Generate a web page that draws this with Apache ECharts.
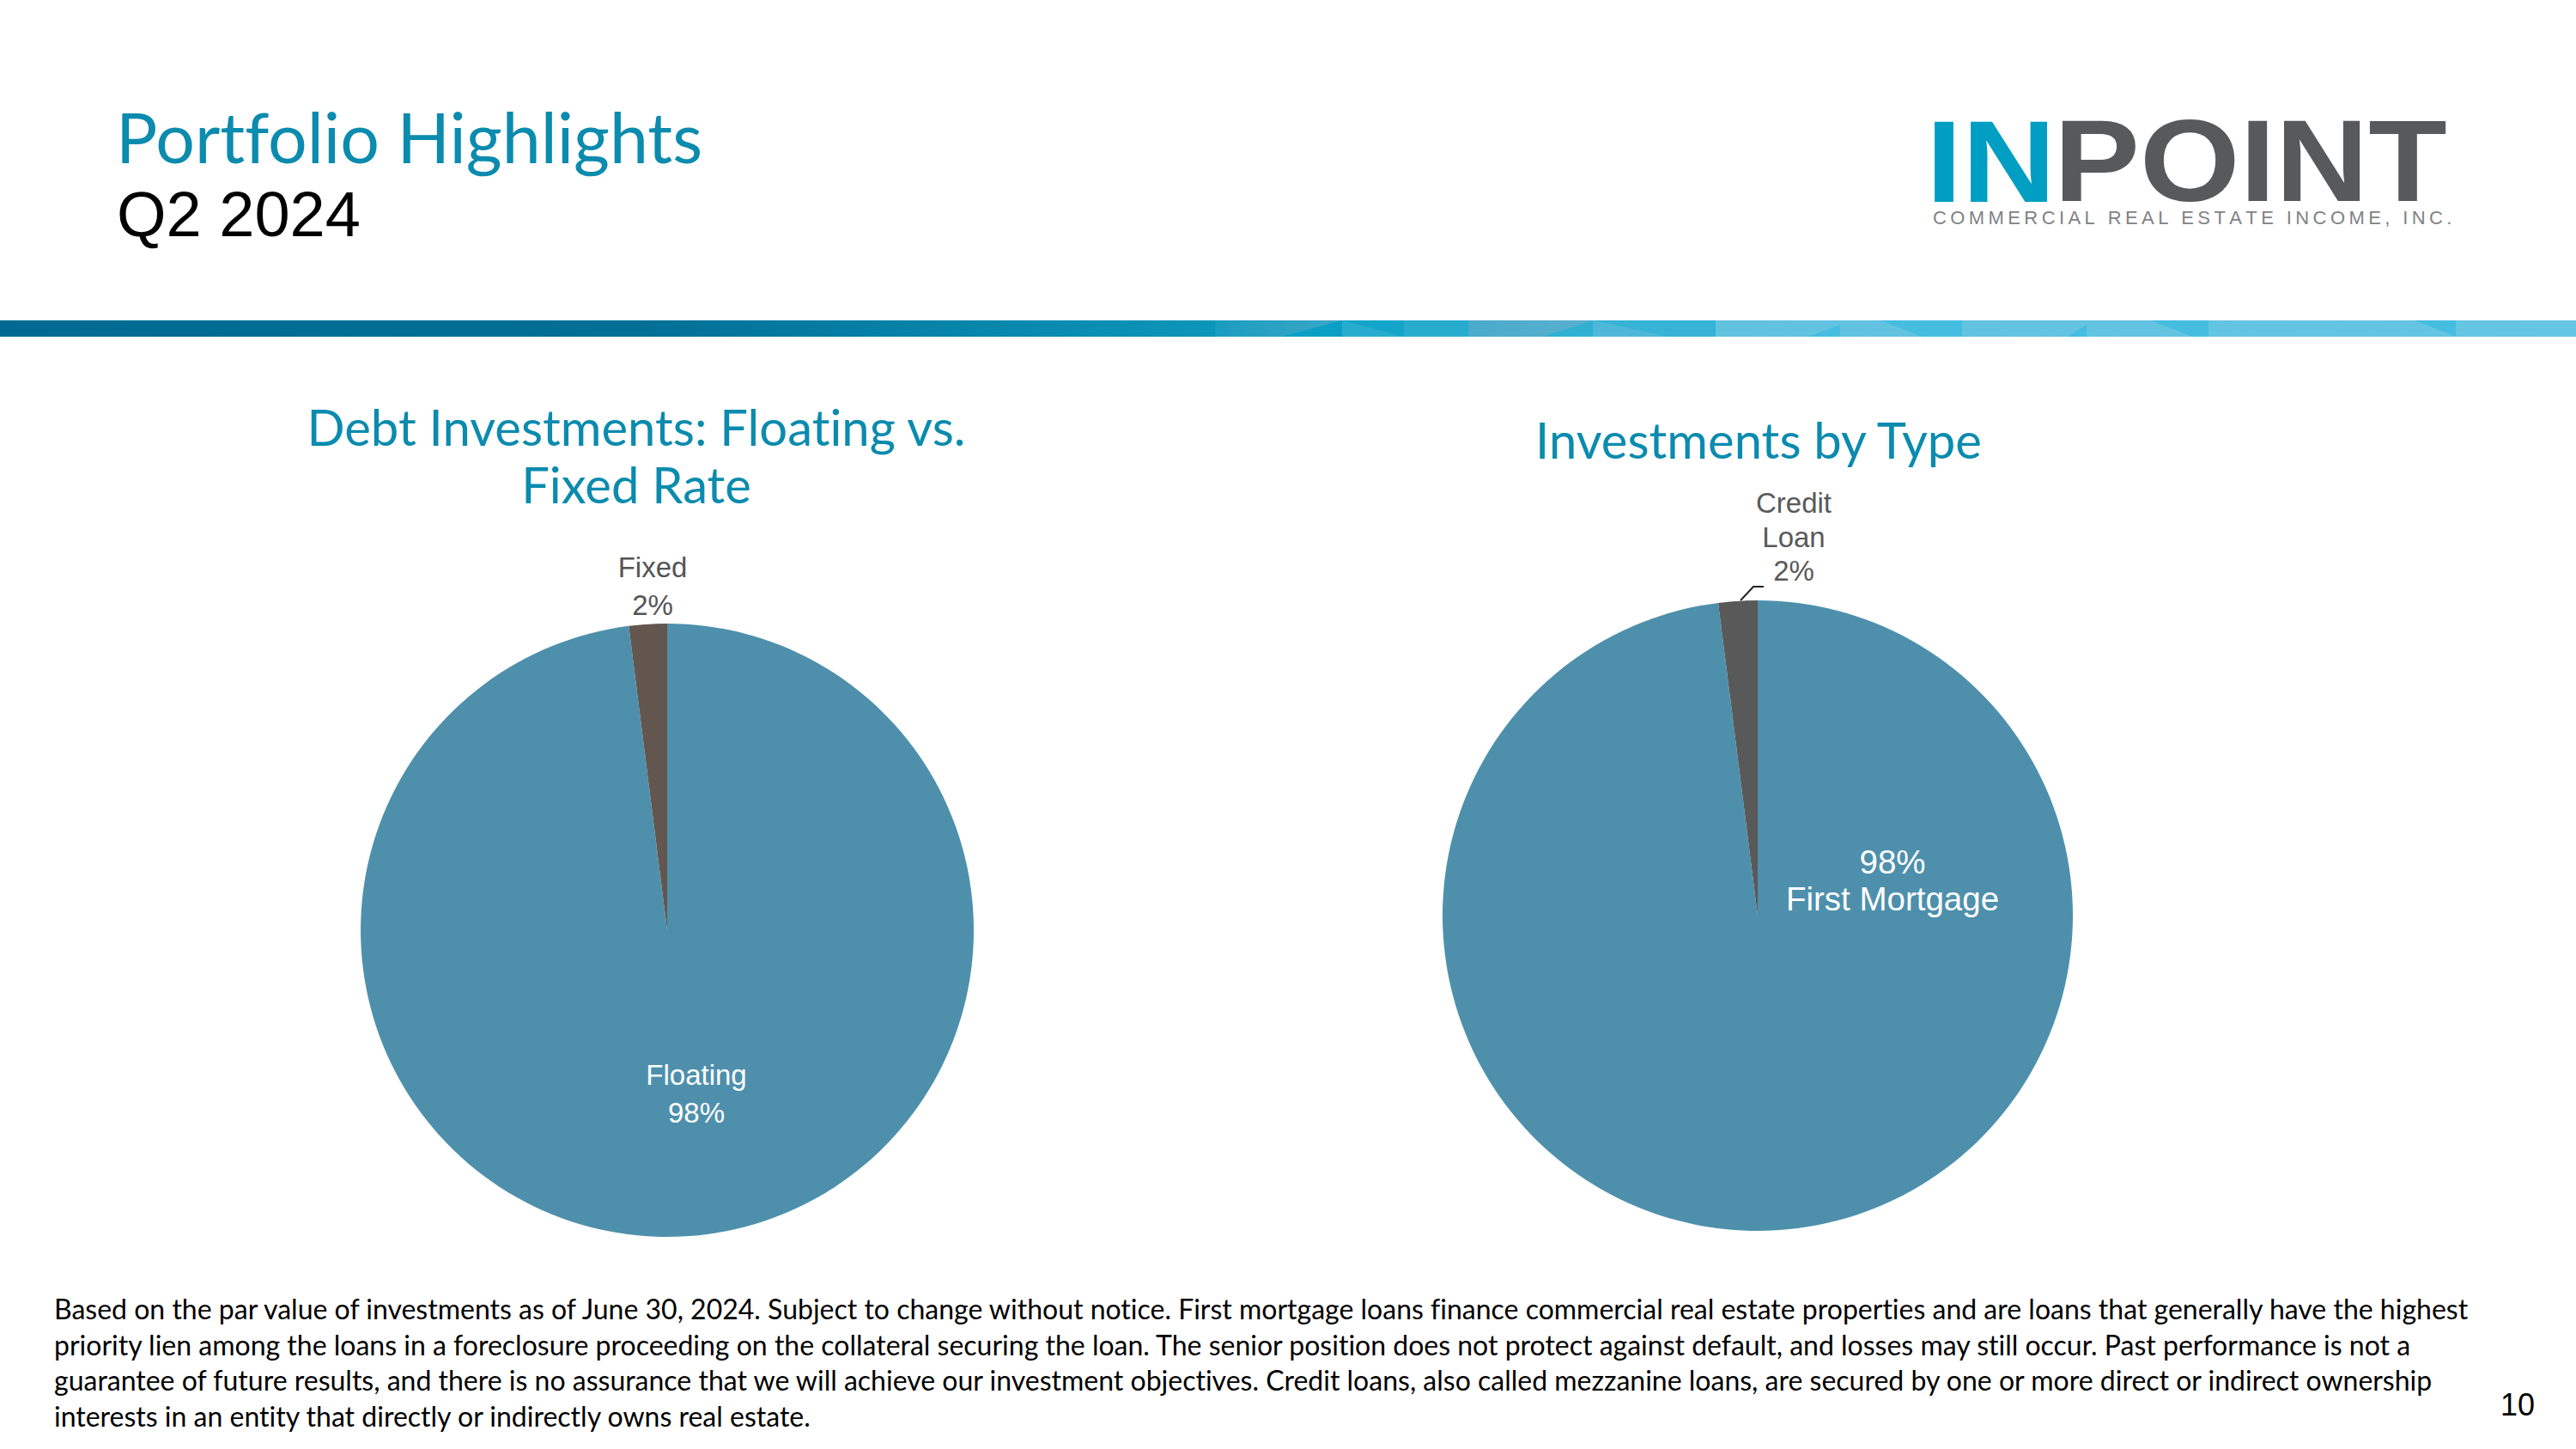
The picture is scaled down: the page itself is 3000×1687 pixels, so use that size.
<!DOCTYPE html>
<html>
<head>
<meta charset="utf-8">
<title>Portfolio Highlights</title>
<style>
  html, body { margin: 0; padding: 0; background: #fff; }
  #main { width: 3000px; height: 1687px; }
  /* reference has no ti / tf ligatures */
  #main text { font-variant-ligatures: none; }
</style>
<script src="https://cdn.jsdelivr.net/npm/echarts@6/dist/echarts.min.js"></script>
</head>
<body>
<div id="main"></div>
<script>
// values
const rateNames = ['Floating', 'Fixed'];
const rateValues = [98, 2];
const typeNames = ['First Mortgage', 'Credit\nLoan'];
const typeValues = [98, 2];

const footnote = [
  'Based on the par value of investments as of June 30, 2024. Subject to change without notice. First mortgage loans finance commercial real estate properties and are loans that generally have the highest',
  'priority lien among the loans in a foreclosure proceeding on the collateral securing the loan. The senior position does not protect against default, and losses may still occur. Past performance is not a',
  'guarantee of future results, and there is no assurance that we will achieve our investment objectives. Credit loans, also called mezzanine loans, are secured by one or more direct or indirect ownership',
  'interests in an entity that directly or indirectly owns real estate.'
];

const BLUE = '#4e90ac';
const TITLE_BLUE = '#0b8bae';
const CALIBRI = 'Lato, Carlito, sans-serif';
const ARIAL = '"Liberation Sans", Arial, sans-serif';

// small facets on the header band
const facets = [
  { pts: [[1563, 373], [1492, 392], [1563, 392]], fill: '#0aa0c5' },
  { pts: [[1563, 373], [1710, 373], [1710, 392], [1563, 392]], fill: '#27acce' },
  { pts: [[1563, 373], [1635, 373], [1635, 392], [1563, 392]], fill: '#12a5c9' },
  { pts: [[1563, 373], [1635, 392], [1563, 392]], fill: '#27acce' },
  { pts: [[1855, 373], [1797, 392], [1855, 392]], fill: '#2fb0d3' },
  { pts: [[1855, 373], [1998, 373], [1998, 392], [1942, 392]], fill: '#36b3d6' },
  { pts: [[1855, 373], [1942, 392], [1855, 392]], fill: '#4db8d8' },
  { pts: [[2143, 378], [2105, 392], [2143, 392]], fill: '#45bde0' },
  { pts: [[2190, 373], [2285, 373], [2285, 392], [2238, 392]], fill: '#45bde0' },
  { pts: [[2430, 378], [2408, 392], [2430, 392]], fill: '#45bde0' },
  { pts: [[2505, 373], [2572, 373], [2572, 392], [2553, 392]], fill: '#45bde0' },
  { pts: [[2812, 373], [2860, 373], [2860, 392]], fill: '#45bde0' }
];

const myChart = echarts.init(document.getElementById('main'), null, { renderer: 'svg' });

myChart.setOption({
  animation: false,
  backgroundColor: '#fff',
  title: [
    {
      text: 'Portfolio Highlights',
      left: 130, top: 113,
      textStyle: { color: TITLE_BLUE, fontFamily: CALIBRI, fontSize: 80.6, fontWeight: 'normal' }
    },
    {
      text: 'Q2 2024',
      left: 131, top: 207,
      textStyle: { color: '#000', fontFamily: ARIAL, fontSize: 74, fontWeight: 'normal' }
    },
    {
      text: 'Debt Investments: Floating vs.\nFixed Rate',
      left: 736, top: 458, textAlign: 'center',
      textStyle: { color: TITLE_BLUE, fontFamily: CALIBRI, fontSize: 58, fontWeight: 'normal', lineHeight: 67, align: 'center' }
    },
    {
      text: 'Investments by Type',
      left: 2043, top: 473, textAlign: 'center',
      textStyle: { color: TITLE_BLUE, fontFamily: CALIBRI, fontSize: 58, fontWeight: 'normal', lineHeight: 67 }
    },
    {
      text: footnote.join('\n'),
      left: 58, top: 1498,
      textStyle: { color: '#000', fontFamily: CALIBRI, fontSize: 32, fontWeight: 'normal', lineHeight: 41.5 }
    },
    {
      text: '10',
      left: 2907, top: 1612,
      textStyle: { color: '#000', fontFamily: ARIAL, fontSize: 36, fontWeight: 'normal' }
    }
  ],
  graphic: [
    {
      type: 'rect',
      shape: { x: 0, y: 373, width: 3000, height: 19 },
      style: {
        fill: new echarts.graphic.LinearGradient(0, 0, 1, 0, [
          { offset: 0, color: '#006a92' },
          { offset: 0.25, color: '#026f97' },
          { offset: 0.4715, color: '#0c96ba' },
          { offset: 0.472, color: '#1a9dc0' },
          { offset: 0.52, color: '#3aa6c8' },
          { offset: 0.62, color: '#5ab0d0' },
          { offset: 0.667, color: '#62c3e1' },
          { offset: 1, color: '#65c6e3' }
        ])
      }
    },
    ...facets.map(f => ({
      type: 'polygon',
      shape: { points: f.pts },
      style: { fill: f.fill }
    })),
    // logo
    {
      type: 'text', x: 2243, y: 255, scaleX: 1.12,
      style: { text: 'IN', fill: '#009ec3', font: 'bold 135px ' + ARIAL, verticalAlign: 'bottom' }
    },
    {
      type: 'text', x: 2392, y: 255, scaleX: 1.11,
      style: { text: 'POINT', fill: '#58595b', font: 'bold 135px ' + ARIAL, verticalAlign: 'bottom' }
    },
    {
      type: 'text', x: 2251, y: 242,
      style: {
        text: 'COMMERCIAL REAL ESTATE INCOME, INC.'.split('').join('\u2009'),
        fill: '#808285', font: '22px ' + ARIAL
      }
    }
  ],
  series: [
    {
      name: 'Debt Investments: Floating vs. Fixed Rate',
      type: 'pie',
      center: [777, 1083],
      radius: 357,
      startAngle: 90,
      clockwise: true,
      percentPrecision: 0,
      data: [
        {
          value: rateValues[0], name: rateNames[0],
          itemStyle: { color: BLUE },
          label: { position: 'center', offset: [34, 190], color: '#fff', fontSize: 33, lineHeight: 44, fontFamily: ARIAL }
        },
        {
          value: rateValues[1], name: rateNames[1],
          itemStyle: { color: '#62564f' },
          label: { position: 'center', offset: [-17, -401], color: '#555', fontSize: 33, lineHeight: 44, fontFamily: ARIAL },
          labelLine: { show: false }
        }
      ],
      label: { formatter: '{b}\n{d}%', align: 'center' }
    },
    {
      name: 'Investments by Type',
      type: 'pie',
      center: [2047, 1066],
      radius: 367,
      startAngle: 90,
      clockwise: true,
      percentPrecision: 0,
      data: [
        {
          value: typeValues[0], name: typeNames[0],
          itemStyle: { color: BLUE },
          label: { position: 'center', offset: [157, -41], color: '#fff', fontSize: 38.5, lineHeight: 43, fontFamily: ARIAL, formatter: '{d}%\n{b}' },
          labelLine: { show: false }
        },
        {
          value: typeValues[1], name: typeNames[1],
          itemStyle: { color: '#595959' },
          label: { position: 'outside', color: '#595959', fontSize: 33, lineHeight: 39.5, fontFamily: ARIAL, formatter: '{b}\n{d}%', align: 'center' },
          labelLine: { show: true, length: 14, length2: 14, lineStyle: { color: '#222', width: 2 } }
        }
      ],
      labelLayout: function (params) {
        if (params.dataIndex !== 1) return {};
        return {
          x: 2089, y: 625, align: 'center', verticalAlign: 'middle',
          labelLinePoints: [[2027, 699], [2042, 683], [2054, 683]]
        };
      }
    }
  ]
});
</script>
</body>
</html>
